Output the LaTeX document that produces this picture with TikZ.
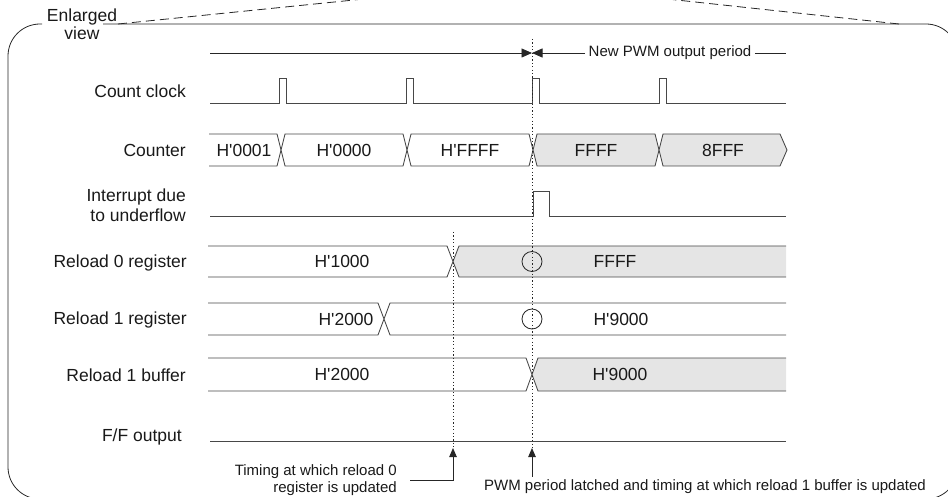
\documentclass[tikz,border=0pt]{standalone}
\usepackage{fontspec}
\setmainfont{Liberation Sans}
\usetikzlibrary{arrows.meta}
\newcommand\hx{H\textquotesingle}
\begin{document}
\begin{tikzpicture}[x=1pt,y=-1pt,text=black!90,
  lbl/.style={anchor=east,inner sep=0pt,align=right,font=\fontsize{17.5}{20}\selectfont},
  val/.style={inner sep=0pt,font=\fontsize{17.5}{20}\selectfont},
  note/.style={font=\fontsize{15}{17}\selectfont},
  sig/.style={draw=black!72,line width=0.85pt},
  thin/.style={draw=black!85,line width=0.8pt},
  vline/.style={black!85,line width=0.9pt,dash pattern=on 1.2pt off 2.2pt},
  tiptop/.style={thin,-{Triangle[length=10.5pt,width=9pt]}},
  tipbot/.style={thin,-{Triangle[length=9pt,width=7.5pt]}}]
\useasboundingbox (0,0) rectangle (948,497);
\clip (0,0) rectangle (948,497);
\draw[thin,rounded corners=32pt] (103,24) -- (958,24) -- (958,499) -- (8,499) -- (8,24) -- (42,24);
\draw[thin,dash pattern=on 9pt off 5pt] (118,24) -- (413,-6) (899,24) -- (621,-6);
\node[val,align=center,font=\fontsize{17.5}{18}\selectfont] (enl) at (82,24) {Enlarged\\view};
\node[lbl] (lclk) at (186,91) {Count clock};
\node[lbl] (lcnt) at (186,150) {Counter};
\node[lbl] (lint) at (186,205) {Interrupt due\\to underflow};
\node[lbl] (lrl0) at (187,263) {Reload 0 register};
\node[lbl] (lrl1) at (187,320) {Reload 1 register};
\node[lbl] (lbuf) at (186,375) {Reload 1 buffer};
\node[lbl] (lff) at (182,437) {F/F output};
\coordinate (per0) at (210,53);
\coordinate (latch) at (532,53);
\coordinate (tipL) at (453,448);
\coordinate (tipR) at (532,448);
\draw[tiptop] (per0) -- (latch);
\node[note] (newper) at (670,53) {New PWM output period};
\draw[tiptop] (newper.west) -- (latch);
\draw[thin] (newper.east) -- (786,53);
\draw[sig] (210,103) foreach \p in {279,406,532,659}{ -- (\p,103) -- (\p,78) -- (\p+7,78) -- (\p+7,103)} -- (786,103);
\draw[sig] (209,134) -- (277,134) -- (281,150) -- (277,166) -- (209,166);
\node[val] (cnt0) at (244,150) {\hx0001};
\foreach \a/\b/\e/\c/\v in {281/407/4/white/\hx0000,407/533/4/white/\hx FFFF,533/659/4/gray!20/FFFF,659/787/7/gray!20/8FFF}{
  \filldraw[sig,fill=\c] (\a,150) -- (\a+4,134) -- (\b-\e,134) -- (\b,150) -- (\b-\e,166) -- (\a+4,166) -- cycle;
  \node[val] (cnt\a) at ({(\a+\b)/2},150) {\v};
}
\draw[sig] (210,216) -- (533,216) -- (533,191) -- (549,191) -- (549,216) -- (786,216);
\foreach \t/\b/\x/\c/\n in {246/277/453/gray!20/rl0,303/335/384/white/rl1,358/391/532/gray!20/buf}{
  \fill[\c] (\x,{(\t+\b)/2}) -- (\x+6,\t) -- (786,\t) -- (786,\b) -- (\x+6,\b) -- cycle;
  \draw[sig] (208,\t) -- (\x-6,\t) -- (\x+6,\b) -- (786,\b) (208,\b) -- (\x-6,\b) -- (\x+6,\t) -- (786,\t);
}
\node[val] (rl0a) at (342,261.5) {\hx1000};
\node[val] (rl0b) at (615,261.5) {FFFF};
\node[val] (rl1a) at (346,319) {\hx2000};
\node[val] (rl1b) at (621,319) {\hx9000};
\node[val] (bufa) at (342,374.5) {\hx2000};
\node[val] (bufb) at (620,374.5) {\hx9000};
\draw[sig] (210,441) -- (786,441);
\draw[thin] (532,261.5) circle[radius=10] (532,319) circle[radius=10];
\draw[vline] (532,39) -- (tipR);
\draw[vline] (453,232) -- (tipL);
\node[note,anchor=east,align=right,inner xsep=13pt,inner ysep=0pt] (tim0) at (410,480) {Timing at which reload 0\\register is updated};
\draw[tipbot] (tim0.east) -| (tipL);
\node[note,inner sep=3pt] (tim1) at (705,487) {PWM period latched and timing at which reload 1 buffer is updated};
\draw[tipbot] (tim1.north -| tipR) -- (tipR);
\end{tikzpicture}
\end{document}
